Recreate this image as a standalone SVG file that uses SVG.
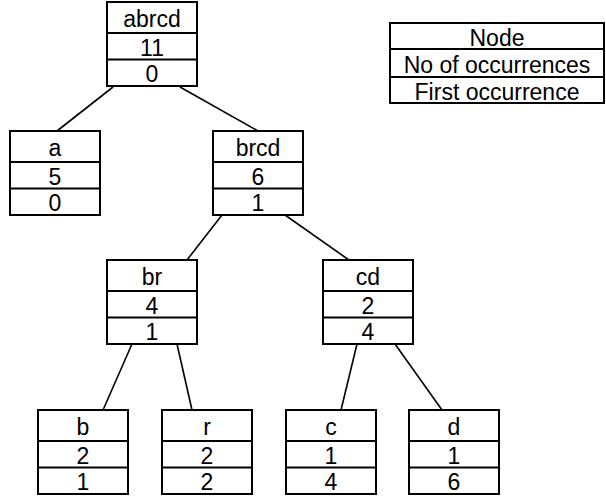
<svg xmlns="http://www.w3.org/2000/svg" width="606" height="497" viewBox="0 0 606 497">
  <style>
    .box { fill: #ffffff; stroke: #000000; stroke-width: 2; }
    .div { stroke: #000000; stroke-width: 2; }
    .edge { stroke: #000000; stroke-width: 1.6; fill: none; }
    text { font-family: "Liberation Sans", Arial, sans-serif; font-size: 23px; fill: #000000; text-anchor: middle; }
  </style>
  <defs>
    <!-- three-row record: name / count / first index -->
    <g id="cell">
      <rect class="box" x="0" y="0" width="90" height="84"/>
      <line class="div" x1="0" y1="31" x2="90" y2="31"/>
      <line class="div" x1="0" y1="57.5" x2="90" y2="57.5"/>
    </g>
  </defs>

  <rect width="606" height="497" fill="#ffffff"/>

  <g id="connectors">
    <line class="edge" x1="113" y1="87" x2="57" y2="131"/>
    <line class="edge" x1="180" y1="87" x2="258" y2="131"/>
    <line class="edge" x1="222" y1="215" x2="187" y2="260"/>
    <line class="edge" x1="285" y1="215" x2="349" y2="260"/>
    <line class="edge" x1="132" y1="344" x2="103" y2="410"/>
    <line class="edge" x1="177" y1="344" x2="192" y2="410"/>
    <line class="edge" x1="357" y1="344" x2="341" y2="410"/>
    <line class="edge" x1="395" y1="344" x2="442" y2="410"/>
  </g>

  <g id="node-abrcd" transform="translate(107,2)">
    <use href="#cell"/>
    <text x="45" y="25">abrcd</text>
    <text x="45" y="54">11</text>
    <text x="45" y="80">0</text>
  </g>

  <g id="node-a" transform="translate(10,131)">
    <use href="#cell"/>
    <text x="45" y="25">a</text>
    <text x="45" y="54">5</text>
    <text x="45" y="80">0</text>
  </g>

  <g id="node-brcd" transform="translate(213,131)">
    <use href="#cell"/>
    <text x="45" y="25">brcd</text>
    <text x="45" y="54">6</text>
    <text x="45" y="80">1</text>
  </g>

  <g id="node-br" transform="translate(107,260)">
    <use href="#cell"/>
    <text x="45" y="25">br</text>
    <text x="45" y="54">4</text>
    <text x="45" y="80">1</text>
  </g>

  <g id="node-cd" transform="translate(323,260)">
    <use href="#cell"/>
    <text x="45" y="25">cd</text>
    <text x="45" y="54">2</text>
    <text x="45" y="80">4</text>
  </g>

  <g id="node-b" transform="translate(38,410)">
    <use href="#cell"/>
    <text x="45" y="25">b</text>
    <text x="45" y="54">2</text>
    <text x="45" y="80">1</text>
  </g>

  <g id="node-r" transform="translate(162,410)">
    <use href="#cell"/>
    <text x="45" y="25">r</text>
    <text x="45" y="54">2</text>
    <text x="45" y="80">2</text>
  </g>

  <g id="node-c" transform="translate(286,410)">
    <use href="#cell"/>
    <text x="45" y="25">c</text>
    <text x="45" y="54">1</text>
    <text x="45" y="80">4</text>
  </g>

  <g id="node-d" transform="translate(409,410)">
    <use href="#cell"/>
    <text x="45" y="25">d</text>
    <text x="45" y="54">1</text>
    <text x="45" y="80">6</text>
  </g>

  <!-- key describing the three rows -->
  <g id="legend" transform="translate(390,23)">
    <rect class="box" x="0" y="0" width="214" height="80"/>
    <line class="div" x1="0" y1="26" x2="214" y2="26"/>
    <line class="div" x1="0" y1="54" x2="214" y2="54"/>
    <text x="107" y="23">Node</text>
    <text x="107" y="50">No of occurrences</text>
    <text x="107" y="77">First occurrence</text>
  </g>
</svg>
